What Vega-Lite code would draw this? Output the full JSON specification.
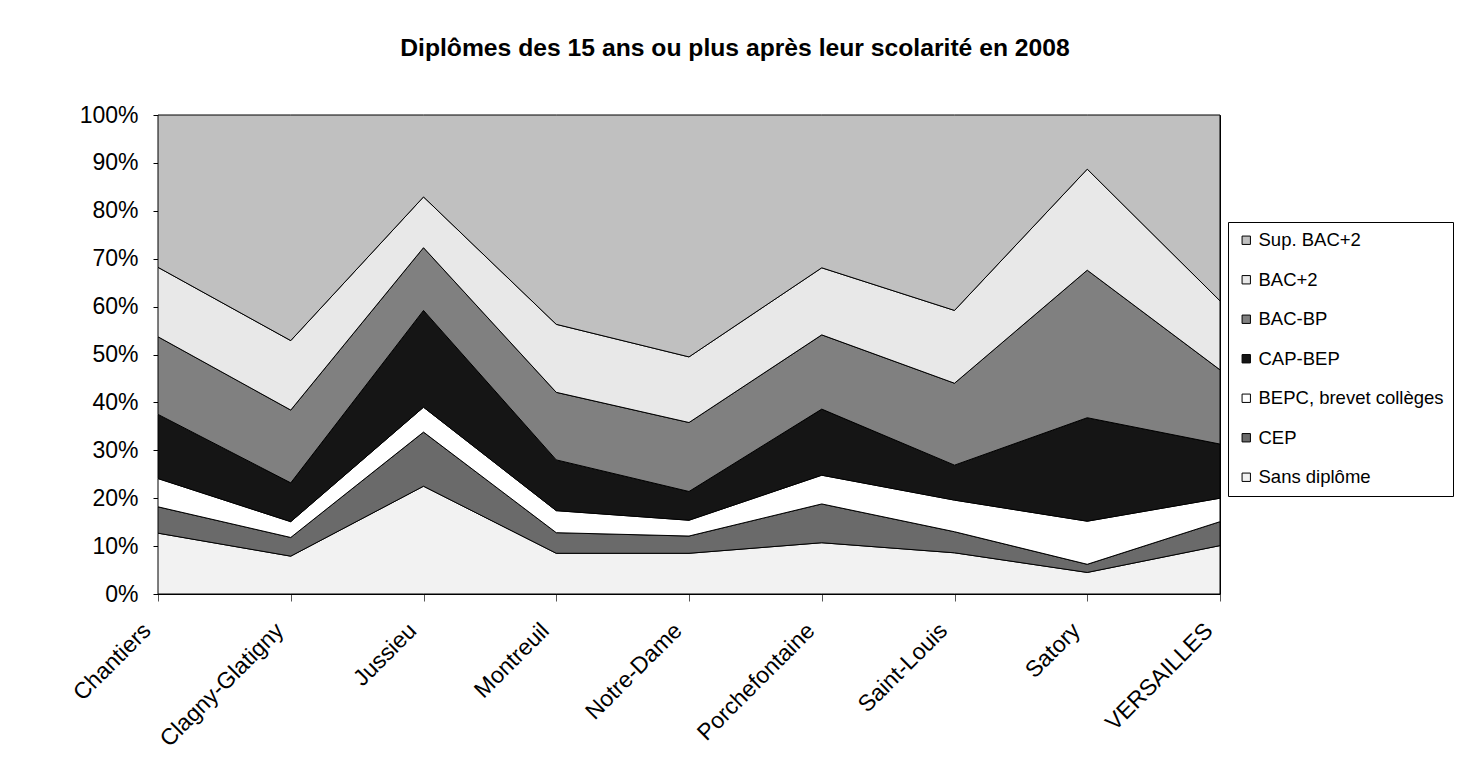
{
  "$schema": "https://vega.github.io/schema/vega-lite/v6.json",
  "autosize": "none",
  "width": 1062,
  "height": 479,
  "padding": {"left": 158, "top": 115, "right": 250, "bottom": 164},
  "background": "white",
  "title": {
    "text": "Diplômes des 15 ans ou plus après leur scolarité en 2008",
    "font": "Liberation Sans",
    "fontSize": 24.7,
    "fontWeight": "bold",
    "color": "black",
    "anchor": "middle",
    "dx": 46,
    "offset": 43
  },
  "data": {
    "values": [
      {"quartier": "Chantiers", "diplome": "Sans diplôme", "part": 12.7},
      {"quartier": "Chantiers", "diplome": "CEP", "part": 5.5},
      {"quartier": "Chantiers", "diplome": "BEPC, brevet collèges", "part": 5.9},
      {"quartier": "Chantiers", "diplome": "CAP-BEP", "part": 13.4},
      {"quartier": "Chantiers", "diplome": "BAC-BP", "part": 16.2},
      {"quartier": "Chantiers", "diplome": "BAC+2", "part": 14.5},
      {"quartier": "Chantiers", "diplome": "Sup. BAC+2", "part": 31.8},
      {"quartier": "Clagny-Glatigny", "diplome": "Sans diplôme", "part": 7.9},
      {"quartier": "Clagny-Glatigny", "diplome": "CEP", "part": 3.9},
      {"quartier": "Clagny-Glatigny", "diplome": "BEPC, brevet collèges", "part": 3.3},
      {"quartier": "Clagny-Glatigny", "diplome": "CAP-BEP", "part": 8.1},
      {"quartier": "Clagny-Glatigny", "diplome": "BAC-BP", "part": 15.2},
      {"quartier": "Clagny-Glatigny", "diplome": "BAC+2", "part": 14.5},
      {"quartier": "Clagny-Glatigny", "diplome": "Sup. BAC+2", "part": 47.1},
      {"quartier": "Jussieu", "diplome": "Sans diplôme", "part": 22.5},
      {"quartier": "Jussieu", "diplome": "CEP", "part": 11.3},
      {"quartier": "Jussieu", "diplome": "BEPC, brevet collèges", "part": 5.2},
      {"quartier": "Jussieu", "diplome": "CAP-BEP", "part": 20.2},
      {"quartier": "Jussieu", "diplome": "BAC-BP", "part": 13.1},
      {"quartier": "Jussieu", "diplome": "BAC+2", "part": 10.6},
      {"quartier": "Jussieu", "diplome": "Sup. BAC+2", "part": 17.1},
      {"quartier": "Montreuil", "diplome": "Sans diplôme", "part": 8.5},
      {"quartier": "Montreuil", "diplome": "CEP", "part": 4.3},
      {"quartier": "Montreuil", "diplome": "BEPC, brevet collèges", "part": 4.6},
      {"quartier": "Montreuil", "diplome": "CAP-BEP", "part": 10.6},
      {"quartier": "Montreuil", "diplome": "BAC-BP", "part": 14.1},
      {"quartier": "Montreuil", "diplome": "BAC+2", "part": 14.2},
      {"quartier": "Montreuil", "diplome": "Sup. BAC+2", "part": 43.7},
      {"quartier": "Notre-Dame", "diplome": "Sans diplôme", "part": 8.5},
      {"quartier": "Notre-Dame", "diplome": "CEP", "part": 3.6},
      {"quartier": "Notre-Dame", "diplome": "BEPC, brevet collèges", "part": 3.3},
      {"quartier": "Notre-Dame", "diplome": "CAP-BEP", "part": 6.0},
      {"quartier": "Notre-Dame", "diplome": "BAC-BP", "part": 14.4},
      {"quartier": "Notre-Dame", "diplome": "BAC+2", "part": 13.7},
      {"quartier": "Notre-Dame", "diplome": "Sup. BAC+2", "part": 50.5},
      {"quartier": "Porchefontaine", "diplome": "Sans diplôme", "part": 10.7},
      {"quartier": "Porchefontaine", "diplome": "CEP", "part": 8.1},
      {"quartier": "Porchefontaine", "diplome": "BEPC, brevet collèges", "part": 6.0},
      {"quartier": "Porchefontaine", "diplome": "CAP-BEP", "part": 13.8},
      {"quartier": "Porchefontaine", "diplome": "BAC-BP", "part": 15.5},
      {"quartier": "Porchefontaine", "diplome": "BAC+2", "part": 14.0},
      {"quartier": "Porchefontaine", "diplome": "Sup. BAC+2", "part": 31.9},
      {"quartier": "Saint-Louis", "diplome": "Sans diplôme", "part": 8.6},
      {"quartier": "Saint-Louis", "diplome": "CEP", "part": 4.4},
      {"quartier": "Saint-Louis", "diplome": "BEPC, brevet collèges", "part": 6.6},
      {"quartier": "Saint-Louis", "diplome": "CAP-BEP", "part": 7.3},
      {"quartier": "Saint-Louis", "diplome": "BAC-BP", "part": 17.1},
      {"quartier": "Saint-Louis", "diplome": "BAC+2", "part": 15.2},
      {"quartier": "Saint-Louis", "diplome": "Sup. BAC+2", "part": 40.8},
      {"quartier": "Satory", "diplome": "Sans diplôme", "part": 4.5},
      {"quartier": "Satory", "diplome": "CEP", "part": 1.7},
      {"quartier": "Satory", "diplome": "BEPC, brevet collèges", "part": 9.0},
      {"quartier": "Satory", "diplome": "CAP-BEP", "part": 21.6},
      {"quartier": "Satory", "diplome": "BAC-BP", "part": 30.8},
      {"quartier": "Satory", "diplome": "BAC+2", "part": 21.1},
      {"quartier": "Satory", "diplome": "Sup. BAC+2", "part": 11.3},
      {"quartier": "VERSAILLES", "diplome": "Sans diplôme", "part": 10.1},
      {"quartier": "VERSAILLES", "diplome": "CEP", "part": 5.0},
      {"quartier": "VERSAILLES", "diplome": "BEPC, brevet collèges", "part": 4.9},
      {"quartier": "VERSAILLES", "diplome": "CAP-BEP", "part": 11.3},
      {"quartier": "VERSAILLES", "diplome": "BAC-BP", "part": 15.5},
      {"quartier": "VERSAILLES", "diplome": "BAC+2", "part": 14.4},
      {"quartier": "VERSAILLES", "diplome": "Sup. BAC+2", "part": 38.8}
    ]
  },
  "transform": [
    {"calculate": "indexof(['Sans diplôme','CEP','BEPC, brevet collèges','CAP-BEP','BAC-BP','BAC+2','Sup. BAC+2'], datum.diplome)", "as": "rang"}
  ],
  "mark": {"type": "area", "stroke": "black", "strokeWidth": 1, "opacity": 1, "fillOpacity": 1},
  "encoding": {
    "x": {
      "field": "quartier",
      "type": "nominal",
      "sort": null,
      "scale": {"type": "point", "padding": 0},
      "axis": {
        "title": null,
        "labelAngle": -45,
        "labelFont": "Liberation Sans",
        "labelFontSize": 23,
        "labelColor": "black",
        "labelPadding": 18,
        "labelOffset": -19,
        "tickSize": 7,
        "tickColor": "#555",
        "domainColor": "black",
        "grid": false
      }
    },
    "y": {
      "field": "part",
      "type": "quantitative",
      "stack": "normalize",
      "scale": {"domain": [0, 1], "nice": false},
      "axis": {
        "title": null,
        "format": ".0%",
        "values": [0, 0.1, 0.2, 0.3, 0.4, 0.5, 0.6, 0.7, 0.8, 0.9, 1],
        "labelFont": "Liberation Sans",
        "labelFontSize": 23,
        "labelColor": "black",
        "labelPadding": 15,
        "tickSize": 5,
        "tickColor": "black",
        "domainColor": "black",
        "grid": false
      }
    },
    "order": {"field": "rang", "type": "quantitative", "sort": "ascending"},
    "color": {
      "field": "diplome",
      "type": "nominal",
      "sort": ["Sup. BAC+2", "BAC+2", "BAC-BP", "CAP-BEP", "BEPC, brevet collèges", "CEP", "Sans diplôme"],
      "scale": {
        "domain": ["Sup. BAC+2", "BAC+2", "BAC-BP", "CAP-BEP", "BEPC, brevet collèges", "CEP", "Sans diplôme"],
        "range": ["#C0C0C0", "#E8E8E8", "#808080", "#151515", "#FFFFFF", "#6A6A6A", "#F2F2F2"]
      },
      "legend": {
        "title": null,
        "orient": "none",
        "legendX": 1070,
        "legendY": 107,
        "symbolType": "square",
        "symbolSize": 70,
        "symbolStrokeColor": "black",
        "symbolStrokeWidth": 1,
        "symbolOpacity": 1,
        "labelFont": "Liberation Sans",
        "labelFontSize": 18.5,
        "labelColor": "black",
        "labelOffset": 3,
        "rowPadding": 20.5,
        "padding": 9,
        "strokeColor": "black",
        "fillColor": "white",
        "labelLimit": 300
      }
    }
  },
  "config": {
    "view": {"stroke": "black", "strokeWidth": 1},
    "axis": {"domainWidth": 1, "tickWidth": 1}
  }
}
